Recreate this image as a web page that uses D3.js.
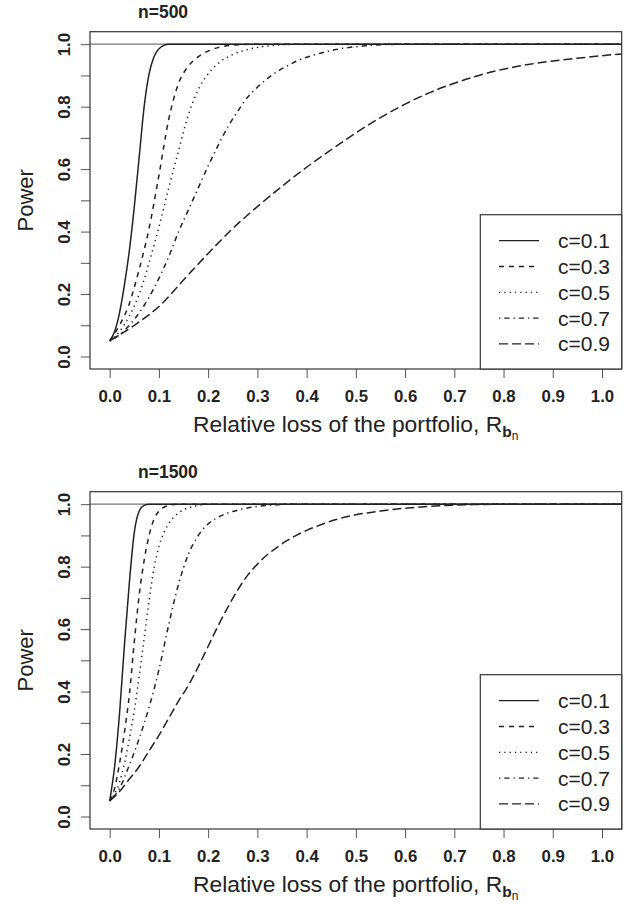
<!DOCTYPE html>
<html>
<head>
<meta charset="utf-8">
<script src="https://cdn.jsdelivr.net/npm/d3@7"></script>
<style>
  body { margin: 0; background: #fff; }
  svg { display: block; }
  text { font-family: "Liberation Sans", Arial, Helvetica, sans-serif; }
</style>
</head>
<body>
<div id="chart"></div>
<script>
// ---- data: [relative loss, power] ----
// n = 500
const n500_c1 = [[0,0.05],[0.01,0.08],[0.02,0.14],[0.03,0.23],[0.04,0.34],[0.05,0.48],[0.06,0.64],
  [0.07,0.80],[0.08,0.905],[0.09,0.96],[0.10,0.985],[0.11,0.996],[0.12,1.0],[1.04,1.0]];
const n500_c3 = [[0,0.05],[0.02,0.10],[0.04,0.17],[0.06,0.28],[0.08,0.41],[0.10,0.58],[0.12,0.76],
  [0.14,0.875],[0.16,0.93],[0.18,0.96],[0.20,0.978],[0.22,0.989],[0.25,0.997],[0.30,1.0],[1.04,1.0]];
const n500_c5 = [[0,0.05],[0.02,0.08],[0.04,0.13],[0.06,0.20],[0.08,0.30],[0.10,0.415],[0.12,0.54],
  [0.14,0.66],[0.16,0.775],[0.18,0.855],[0.20,0.905],[0.22,0.938],[0.25,0.967],[0.28,0.983],[0.32,0.994],
  [0.36,0.999],[0.40,1.0],[1.04,1.0]];
const n500_c7 = [[0,0.05],[0.02,0.07],[0.04,0.10],[0.06,0.14],[0.08,0.19],[0.10,0.25],[0.12,0.32],
  [0.14,0.40],[0.16,0.47],[0.18,0.54],[0.20,0.61],[0.22,0.675],[0.24,0.735],[0.26,0.785],[0.28,0.83],
  [0.30,0.862],[0.32,0.89],[0.34,0.912],[0.36,0.93],[0.38,0.946],[0.40,0.958],[0.43,0.972],
  [0.46,0.983],[0.50,0.992],[0.55,0.998],[0.60,1.0],[1.04,1.0]];
const n500_c9 = [[0,0.05],[0.05,0.10],[0.10,0.16],[0.15,0.245],[0.20,0.33],[0.25,0.41],[0.30,0.48],
  [0.35,0.545],[0.40,0.606],[0.45,0.662],[0.50,0.716],[0.55,0.765],[0.60,0.808],[0.65,0.845],
  [0.70,0.875],[0.75,0.90],[0.80,0.92],[0.85,0.935],[0.90,0.946],[0.95,0.955],[1.00,0.963],[1.04,0.969]];

// n = 1500
const n1500_c1 = [[0,0.05],[0.01,0.16],[0.02,0.33],[0.03,0.55],[0.04,0.75],[0.05,0.91],[0.06,0.978],
  [0.07,0.996],[0.08,1.0],[1.04,1.0]];
const n1500_c3 = [[0,0.05],[0.01,0.09],[0.02,0.17],[0.03,0.27],[0.04,0.39],[0.05,0.56],[0.06,0.71],
  [0.07,0.82],[0.08,0.90],[0.09,0.952],[0.10,0.978],[0.12,0.996],[0.14,1.0],[1.04,1.0]];
const n1500_c5 = [[0,0.05],[0.02,0.11],[0.03,0.17],[0.04,0.25],[0.05,0.34],[0.06,0.45],[0.07,0.57],
  [0.08,0.69],[0.09,0.795],[0.10,0.865],[0.11,0.908],[0.12,0.938],[0.14,0.972],[0.16,0.988],[0.18,0.996],
  [0.20,1.0],[1.04,1.0]];
const n1500_c7 = [[0,0.05],[0.02,0.09],[0.04,0.165],[0.06,0.25],[0.08,0.35],[0.10,0.47],[0.12,0.615],
  [0.14,0.745],[0.16,0.84],[0.18,0.9],[0.20,0.937],[0.22,0.958],[0.24,0.972],[0.26,0.981],[0.28,0.988],
  [0.30,0.993],[0.33,0.997],[0.36,1.0],[1.04,1.0]];
const n1500_c9 = [[0,0.05],[0.02,0.08],[0.04,0.12],[0.06,0.16],[0.08,0.21],[0.10,0.26],[0.12,0.315],
  [0.14,0.37],[0.16,0.42],[0.18,0.48],[0.20,0.545],[0.22,0.61],[0.24,0.67],[0.26,0.725],[0.28,0.772],
  [0.30,0.808],[0.32,0.838],[0.34,0.862],[0.36,0.883],[0.38,0.901],[0.40,0.916],[0.43,0.935],
  [0.46,0.951],[0.50,0.966],[0.55,0.978],[0.60,0.987],[0.65,0.993],[0.70,0.997],[0.75,0.999],
  [0.80,1.0],[1.04,1.0]];

const seriesLabels = ["c=0.1", "c=0.3", "c=0.5", "c=0.7", "c=0.9"];
const panelTitles = ["n=500", "n=1500"];
const xTicks = [0, 0.1, 0.2, 0.3, 0.4, 0.5, 0.6, 0.7, 0.8, 0.9, 1.0];
const yTicks = [0, 0.1, 0.2, 0.3, 0.4, 0.5, 0.6, 0.7, 0.8, 0.9, 1.0];
const yLabelled = [0, 0.2, 0.4, 0.6, 0.8, 1.0];

// R line types (lty 1..5)
const dashes = [null, "5,5", "1.3,4", "1.3,4,5.2,4", "9,4"];

// ---- layout ----
const W = 630, H = 904;
const plot = { left: 90, right: 621.7, top: 31.7, bottom: 369 };
const panelOffset = 460;

const svg = d3.select("#chart").append("svg")
  .attr("width", W).attr("height", H);

const x = d3.scaleLinear().domain([-0.04, 1.04]).range([plot.left, plot.right]);
const y = d3.scaleLinear().domain([-0.04, 1.04]).range([plot.bottom, plot.top]);

const line = d3.line()
  .x(d => x(d[0]))
  .y(d => y(d[1]))
  .curve(d3.curveMonotoneX);

function drawPanel(idx, series) {
  const g = svg.append("g").attr("transform", `translate(0,${idx * panelOffset})`);

  const clipId = `clip-${idx}`;
  g.append("clipPath").attr("id", clipId)
    .append("rect")
      .attr("x", plot.left).attr("y", plot.top)
      .attr("width", plot.right - plot.left).attr("height", plot.bottom - plot.top);

  // abline(h = 1)
  g.append("line")
    .attr("x1", plot.left).attr("x2", plot.right)
    .attr("y1", y(1)).attr("y2", y(1))
    .attr("stroke", "#777").attr("stroke-width", 1.2);

  // curves
  g.append("g").attr("clip-path", `url(#${clipId})`)
    .selectAll("path")
    .data(series)
    .enter().append("path")
      .attr("d", line)
      .attr("fill", "none")
      .attr("stroke", "#222")
      .attr("stroke-width", 1.5)
      .attr("stroke-dasharray", (d, i) => dashes[i]);

  // x axis
  const xAxis = g.append("g")
    .attr("transform", `translate(0,${plot.bottom})`)
    .call(d3.axisBottom(x).tickValues(xTicks).tickSize(9).tickFormat(d3.format(".1f")));
  xAxis.select(".domain").remove();
  xAxis.selectAll(".tick line").attr("stroke", "#555");
  xAxis.selectAll(".tick text")
    .attr("y", 32.7).attr("dy", null)
    .attr("fill", "#222")
    .style("font-size", "16.8px").style("font-weight", "bold");

  // y axis
  const yAxis = g.append("g")
    .attr("transform", `translate(${plot.left},0)`)
    .call(d3.axisLeft(y).tickValues(yTicks).tickSize(9)
      .tickFormat(d => yLabelled.some(v => Math.abs(v - d) < 1e-9) ? d3.format(".1f")(d) : ""));
  yAxis.select(".domain").remove();
  yAxis.selectAll(".tick line").attr("stroke", "#555");
  yAxis.selectAll(".tick text")
    .attr("transform", "rotate(-90)")
    .attr("x", 0).attr("y", -20).attr("dy", null)
    .attr("text-anchor", "middle")
    .attr("fill", "#222")
    .style("font-size", "16.8px").style("font-weight", "bold");

  // box
  g.append("rect")
    .attr("x", plot.left).attr("y", plot.top)
    .attr("width", plot.right - plot.left).attr("height", plot.bottom - plot.top)
    .attr("fill", "none").attr("stroke", "#333").attr("stroke-width", 1.2);

  // title
  g.append("text")
    .attr("x", 138).attr("y", 18.3)
    .attr("fill", "#222")
    .style("font-size", "17.5px").style("font-weight", "bold")
    .text(panelTitles[idx]);

  // axis labels
  const xl = g.append("text")
    .attr("x", 193).attr("y", plot.bottom + 62.7)
    .attr("fill", "#222")
    .style("font-size", "22.8px")
    .text("Relative loss of the portfolio, R");
  xl.append("tspan")
    .attr("dy", 5).style("font-size", "15.5px").style("font-weight", "bold")
    .text("b");
  xl.append("tspan")
    .attr("dy", 3.5).style("font-size", "12px")
    .text("n");

  g.append("text")
    .attr("transform", `translate(33,${(plot.top + plot.bottom) / 2}) rotate(-90)`)
    .attr("text-anchor", "middle")
    .attr("fill", "#222")
    .style("font-size", "22px")
    .text("Power");

  // legend
  const lgW = 141.4, lgH = 154.3, step = 25.8;
  const lg = g.append("g")
    .attr("transform", `translate(${plot.right - lgW},${plot.bottom - lgH})`);
  lg.append("rect")
    .attr("width", lgW).attr("height", lgH)
    .attr("fill", "#fff").attr("stroke", "#333").attr("stroke-width", 1.2);
  const item = lg.selectAll("g.item")
    .data(seriesLabels)
    .enter().append("g")
      .attr("class", "item")
      .attr("transform", (d, i) => `translate(0,${26 + i * step})`);
  item.append("line")
    .attr("x1", 18.7).attr("x2", 58.7)
    .attr("stroke", "#222").attr("stroke-width", 1.3)
    .attr("stroke-dasharray", (d, i) => dashes[i]);
  item.append("text")
    .attr("x", 77.7).attr("dy", "0.36em")
    .attr("fill", "#222")
    .style("font-size", "21px")
    .text(d => d);
}

drawPanel(0, [n500_c1, n500_c3, n500_c5, n500_c7, n500_c9]);
drawPanel(1, [n1500_c1, n1500_c3, n1500_c5, n1500_c7, n1500_c9]);
</script>
</body>
</html>
